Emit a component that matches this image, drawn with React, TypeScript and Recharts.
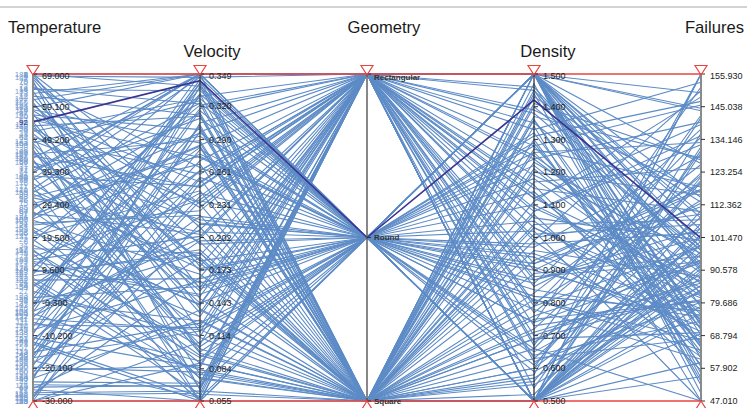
import React from "react";
import { LineChart, Line, XAxis, YAxis, ReferenceLine, ReferenceDot } from "recharts";

const dimensions = ["Temperature", "Velocity", "Geometry", "Density", "Failures"];

const RECT = "Rectangular";
const ROUND = "Round";
const SQ = "Square";
const geometryCategories = [RECT, ROUND, SQ];

const ids = [
  188, 12, 57, 143, 31, 176, 64, 109, 5, 151,
  23, 137, 81, 196, 44, 118, 70, 163, 9, 127,
  185, 52, 100, 34, 171, 78, 146, 19, 113, 60,
  158, 2, 133, 87, 42, 180, 96, 15, 124, 67,
  149, 27, 106, 193, 50, 84, 139, 7, 166, 116,
  38, 74, 155, 21, 131, 93, 182, 48, 111, 3,
  160, 69, 29, 142, 102, 55, 198, 17, 121, 89,
  36, 173, 61, 128, 11, 153, 95, 40, 186, 72,
  119, 26, 165, 98, 46, 136, 8, 178, 59, 104,
  145, 33, 190, 77, 14, 125, 63, 169, 99, 51,
  140, 24, 83, 157, 115, 6, 194, 66, 130, 45,
  1, 13, 28, 39, 53, 65, 76, 88, 97, 108,
  117, 126, 134, 147, 152, 161, 170, 179, 187, 195,
  4, 18, 30, 43, 58, 71, 85, 94, 103, 112,
  123, 138, 148, 159, 168, 177, 189, 197, 10, 22,
  35, 49, 62, 79, 91, 107, 122, 144, 164, 183,
  92,
];

const temperature = [
  69, 62.3, 55.1, 48.7, 41.2, 35.8, 27.4, 21.9, 14.6, 8.3,
  2.1, -4.7, -11.3, -18.6, -24.2, -30, 66.4, 58.9, 51.6, 44.8,
  38.1, 31.5, 24.7, 17.2, 11.9, 5.4, -1.8, -7.6, -14.9, -21.3,
  -27.5, 69, 63.8, 57.2, 50.1, 43.5, 36.9, 29.8, 23.3, 16.1,
  9.7, 3.2, -3.5, -9.8, -16.4, -22.7, -28.9, 67.5, 60.4, 53.8,
  46.2, 39.7, 33.1, 26.2, 19.9, 12.8, 6.6, 0.4, -6.2, -12.7,
  -19.4, -25.8, -30, 68.1, 61.7, 54.5, 47.3, 40.6, 34.2, 28.1,
  20.8, 13.7, 7.9, 1.3, -5.1, -10.9, -17.8, -23.5, -29.2, 65.2,
  57.9, 52.4, 45.6, 37.8, 30.9, 25.6, 18.3, 10.5, 4.6, -2.9,
  -8.4, -15.2, -20.9, -26.6, 64.3, 56.6, 49.8, 42.3, 32.7, 22.5,
  15.4, 6.1, -0.9, -13.6, -25.1, 69, 59.7, 45.1, -19.8, -30,
  69, 63.1, 58.2, 52.7, 47.9, 43.1, 37.4, 31.9, 26.8, 21.1,
  15.8, 10.2, 4.9, -0.6, -6.9, -12.1, -17.3, -22.4, -27.8, -30,
  68.4, 64.7, 56.3, 50.9, 42.6, 35.1, 28.6, 23.9, 12.3, 7.2,
  -3.1, -9.2, -15.7, -23.1, -28.1, 61.2, 53.3, 44.2, 33.8, 18.9,
  0.9, -11.8, -26.2, 66.9, 39.1, 25.1, -4.4, -16.9, 48.1, 9.1,
  54.5,
];

const velocity = [
  0.349, 0.312, 0.274, 0.233, 0.198, 0.161, 0.122, 0.089, 0.055, 0.336,
  0.301, 0.262, 0.221, 0.184, 0.071, 0.108, 0.147, 0.349, 0.327, 0.289,
  0.248, 0.207, 0.169, 0.131, 0.094, 0.061, 0.344, 0.318, 0.281, 0.239,
  0.064, 0.156, 0.117, 0.079, 0.055, 0.349, 0.309, 0.268, 0.226, 0.188,
  0.151, 0.113, 0.083, 0.341, 0.297, 0.255, 0.214, 0.176, 0.138, 0.099,
  0.066, 0.349, 0.323, 0.285, 0.244, 0.203, 0.165, 0.127, 0.091, 0.055,
  0.331, 0.069, 0.251, 0.211, 0.172, 0.134, 0.102, 0.293, 0.346, 0.314,
  0.277, 0.236, 0.191, 0.158, 0.119, 0.085, 0.058, 0.338, 0.305, 0.265,
  0.229, 0.182, 0.143, 0.106, 0.075, 0.349, 0.321, 0.283, 0.242, 0.201,
  0.163, 0.125, 0.087, 0.055, 0.334, 0.299, 0.259, 0.218, 0.179, 0.141,
  0.104, 0.071, 0.349, 0.316, 0.068, 0.232, 0.196, 0.154, 0.081, 0.055,
  0.338, 0.349, 0.287, 0.215, 0.157, 0.098, 0.349, 0.275, 0.205, 0.142,
  0.076, 0.331, 0.262, 0.188, 0.121, 0.059, 0.303, 0.235, 0.166, 0.089,
  0.346, 0.322, 0.252, 0.181, 0.112, 0.055, 0.296, 0.222, 0.149, 0.078,
  0.341, 0.271, 0.199, 0.128, 0.062, 0.349, 0.311, 0.247, 0.174, 0.096,
  0.329, 0.256, 0.137, 0.065, 0.349, 0.284, 0.209, 0.118, 0.325, 0.186,
  0.343,
];

const geometry = [
  RECT, SQ, ROUND, RECT, SQ, ROUND, RECT, SQ, RECT, ROUND,
  SQ, RECT, ROUND, SQ, RECT, ROUND, SQ, RECT, ROUND, SQ,
  RECT, ROUND, SQ, RECT, ROUND, SQ, SQ, RECT, ROUND, RECT,
  SQ, ROUND, RECT, SQ, ROUND, RECT, ROUND, SQ, RECT, SQ,
  ROUND, RECT, SQ, ROUND, RECT, SQ, ROUND, RECT, SQ, ROUND,
  RECT, SQ, ROUND, RECT, SQ, RECT, ROUND, SQ, ROUND, RECT,
  SQ, ROUND, RECT, SQ, ROUND, RECT, SQ, ROUND, RECT, SQ,
  ROUND, RECT, SQ, ROUND, SQ, RECT, ROUND, SQ, RECT, ROUND,
  RECT, SQ, ROUND, RECT, SQ, ROUND, RECT, SQ, ROUND, RECT,
  SQ, ROUND, RECT, SQ, ROUND, SQ, RECT, ROUND, SQ, RECT,
  ROUND, RECT, SQ, ROUND, RECT, SQ, ROUND, RECT, SQ, ROUND,
  ROUND, RECT, SQ, ROUND, RECT, SQ, RECT, ROUND, SQ, RECT,
  SQ, ROUND, RECT, SQ, ROUND, RECT, SQ, ROUND, RECT, SQ,
  ROUND, SQ, RECT, ROUND, SQ, RECT, ROUND, SQ, RECT, ROUND,
  SQ, RECT, ROUND, SQ, RECT, ROUND, SQ, RECT, ROUND, SQ,
  RECT, ROUND, SQ, RECT, ROUND, SQ, RECT, ROUND, SQ, RECT,
  ROUND,
];

const density = [
  1.5, 0.5, 1.32, 0.87, 1.11, 0.64, 1.45, 0.93, 0.5, 1.24,
  0.71, 1.5, 1.05, 0.58, 1.38, 0.82, 1.17, 0.5, 1.5, 0.96,
  0.67, 1.28, 0.79, 1.5, 1.02, 0.55, 1.41, 0.88, 1.14, 0.5,
  1.21, 0.74, 1.5, 0.99, 0.61, 1.35, 0.84, 1.08, 0.5, 1.47,
  0.92, 1.19, 0.69, 1.5, 1.03, 0.52, 1.29, 0.77, 1.5, 0.95,
  0.5, 1.36, 0.86, 1.12, 0.63, 1.5, 0.97, 1.23, 0.5, 0.73,
  1.43, 0.81, 1.06, 0.5, 1.31, 0.9, 1.5, 0.66, 1.16, 0.57,
  1.26, 0.5, 1.01, 1.5, 0.76, 1.39, 0.94, 0.6, 1.09, 0.5,
  1.5, 0.83, 1.22, 0.68, 1.34, 0.5, 1.13, 0.89, 1.5, 0.62,
  1.04, 0.78, 1.46, 0.5, 0.91, 1.27, 0.7, 1.5, 1.07, 0.54,
  1.18, 0.85, 1.5, 0.65, 1.33, 0.5, 0.98, 1.25, 0.72, 1.5,
  0.5, 1.5, 1.37, 0.59, 1.15, 0.81, 1.5, 0.5, 1.26, 0.92,
  1.44, 0.5, 1.08, 0.75, 1.5, 0.63, 1.2, 0.5, 0.99, 1.5,
  0.87, 1.3, 0.5, 1.5, 0.69, 1.12, 0.5, 1.4, 0.8, 1.5,
  0.56, 1.24, 0.5, 1.03, 1.5, 0.74, 1.36, 0.5, 1.1, 0.6,
  1.5, 0.9, 0.5, 1.28, 1.5, 0.66, 1.0, 0.5, 1.45, 0.79,
  1.42,
];

const failures = [
  82.4, 131.7, 64.9, 101.2, 148.3, 73.6, 92.8, 117.5, 55.1, 139.9,
  86.3, 109.4, 68.2, 155.93, 95.7, 77.1, 124.6, 59.8, 103.9, 88.5,
  142.2, 71.3, 98.6, 114.8, 47.01, 83.7, 127.3, 93.4, 66.5, 106.1,
  79.2, 151.6, 90.1, 61.7, 119.8, 97.3, 74.9, 135.4, 85.6, 52.3,
  111.7, 96.2, 69.8, 144.5, 81.3, 104.7, 63.4, 122.1, 91.6, 76.8,
  99.1, 58.4, 137.6, 87.9, 108.3, 72.5, 128.9, 94.6, 155.93, 80.7,
  113.2, 67.3, 100.5, 84.2, 146.8, 75.4, 97.9, 120.4, 62.6, 89.3,
  133.1, 78.6, 105.8, 54.7, 93.9, 116.4, 70.2, 141.3, 86.8, 102.6,
  65.7, 125.8, 83.1, 98.9, 47.01, 110.5, 74.1, 95.2, 149.7, 79.9,
  107.4, 60.9, 90.9, 136.2, 71.9, 118.3, 87.2, 99.8, 57.3, 130.5,
  81.9, 112.9, 68.9, 94.1, 153.2, 76.2, 103.1, 89.7, 122.9, 49.6,
  96.8, 72.1, 127.9, 85.3, 110.1, 63.9, 143.7, 91.1, 75.8, 119.2,
  53.6, 101.9, 132.4, 80.2, 98.2, 67.9, 115.6, 88.1, 150.4, 73.2,
  104.3, 58.9, 92.3, 126.1, 82.9, 139.1, 69.4, 97.1, 113.9, 61.2,
  121.7, 86.1, 155.93, 77.6, 107.9, 93.1, 65.1, 129.6, 84.7, 100.2,
  56.2, 117.1, 90.2, 145.6, 78.3, 47.01, 109.2, 95.9, 70.7, 134.9,
  101.3,
];

const highlightIds = [92];

const temperatureTicks = [69, 59.1, 49.2, 39.3, 29.4, 19.5, 9.6, -0.3, -10.2, -20.1, -30];
const velocityTicks = [0.349, 0.32, 0.29, 0.261, 0.231, 0.202, 0.173, 0.143, 0.114, 0.084, 0.055];
const densityTicks = [1.5, 1.4, 1.3, 1.2, 1.1, 1.0, 0.9, 0.8, 0.7, 0.6, 0.5];
const failuresTicks = [155.93, 145.038, 134.146, 123.254, 112.362, 101.47, 90.578, 79.686, 68.794, 57.902, 47.01];

const ranges: Record<string, [number, number]> = {
  Temperature: [-30, 69],
  Velocity: [0.055, 0.349],
  Density: [0.5, 1.5],
  Failures: [47.01, 155.93],
};

const norm = (dim: string, v: number) => {
  const [lo, hi] = ranges[dim];
  return (v - lo) / (hi - lo);
};
const normGeo = (g: string) => 1 - geometryCategories.indexOf(g) / (geometryCategories.length - 1);

const records = ids.map((id, k) => [
  norm("Temperature", temperature[k]),
  norm("Velocity", velocity[k]),
  normGeo(geometry[k]),
  norm("Density", density[k]),
  norm("Failures", failures[k]),
]);

const data = dimensions.map((name, d) => {
  const row: Record<string, number | string> = { i: d, name };
  records.forEach((r, k) => {
    row[`r${k}`] = r[d];
  });
  return row;
});

const numericAxes: { d: number; dim: string; ticks: number[] }[] = [
  { d: 0, dim: "Temperature", ticks: temperatureTicks },
  { d: 1, dim: "Velocity", ticks: velocityTicks },
  { d: 3, dim: "Density", ticks: densityTicks },
  { d: 4, dim: "Failures", ticks: failuresTicks },
];

const FONT = "'Liberation Sans', Arial, Helvetica, sans-serif";
const LINE_BLUE = "#5d8bc6";
const HL = "#3b3590";
const RED = "#e8433f";

const axisColors = ["#8a8a8a", "#333", "#555", "#222", "#8a8a8a"];
const axisWidths = [2, 1.2, 1.4, 1.2, 2];

const idDot = (id: number, hl: boolean) => (props: any) => {
  const key = `dot-${id}-${props.index}`;
  if (props.index !== 0) return <g key={key} />;
  return (
    <text
      key={key}
      x={props.cx - 5}
      y={props.cy}
      dy="0.35em"
      textAnchor="end"
      fontSize={8}
      fontFamily={FONT}
      fill={hl ? HL : "#7aa0d3"}
    >
      {id}
    </text>
  );
};

const tickShape = (label: string, top: boolean) => (p: any) => (
  <g>
    <line x1={p.cx} x2={p.cx + 4} y1={p.cy} y2={p.cy} stroke="#333" strokeWidth={1} />
    <text x={p.cx + 9} y={p.cy + (top ? 2 : 0)} dy="0.35em" fontSize={9} fontFamily={FONT} fill="#222">
      {label}
    </text>
  </g>
);

const geoShape = (label: string, top: boolean) => (p: any) => (
  <g>
    <line x1={p.cx} x2={p.cx + 4} y1={p.cy} y2={p.cy} stroke="#333" strokeWidth={1} />
    <text x={p.cx + 7} y={p.cy + (top ? 3 : 0)} dy="0.35em" fontSize={8} fontWeight="bold" fontFamily={FONT} fill="#333">
      {label}
    </text>
  </g>
);

const topTriangle = (p: any) => (
  <path d={`M${p.cx - 6},${p.cy - 8.5} L${p.cx + 6},${p.cy - 8.5} L${p.cx},${p.cy + 1} Z`} fill="none" stroke={RED} strokeWidth={1.2} />
);
const bottomTriangle = (p: any) => (
  <path d={`M${p.cx - 6},${p.cy + 9.5} L${p.cx + 6},${p.cy + 9.5} L${p.cx},${p.cy} Z`} fill="none" stroke={RED} strokeWidth={1.2} />
);

const titles = [
  { text: "Temperature", x: 8, y: 33, anchor: "start" },
  { text: "Velocity", x: 212, y: 57, anchor: "middle" },
  { text: "Geometry", x: 384, y: 33, anchor: "middle" },
  { text: "Density", x: 548, y: 57, anchor: "middle" },
  { text: "Failures", x: 744, y: 33, anchor: "end" },
];

export default function App() {
  return (
    <div style={{ position: "relative", width: 747, height: 408, background: "#fff", overflow: "hidden" }}>
      <style>{`body{margin:0;background:#fff}`}</style>
      <svg width={747} height={408} style={{ position: "absolute", left: 0, top: 0 }}>
        <line x1={0} x2={747} y1={7} y2={7} stroke="#a8a8a8" strokeWidth={1.2} />
        {titles.map((t) => (
          <text key={t.text} x={t.x} y={t.y} textAnchor={t.anchor as any} fontSize={16.6} fontFamily={FONT} fill="#1a1a1a">
            {t.text}
          </text>
        ))}
      </svg>
      <div style={{ position: "absolute", left: 0, top: 0 }}>
        <LineChart width={747} height={408} data={data} margin={{ top: 74, right: 46, bottom: 7, left: 33 }}>
          <XAxis type="number" dataKey="i" domain={[0, 4]} hide height={0} />
          <YAxis type="number" domain={[0, 1]} hide width={0} />
          {ids.map((id, k) => {
            const hl = highlightIds.includes(id);
            return (
              <Line
                key={`line-${id}-${k}`}
                dataKey={`r${k}`}
                type="linear"
                stroke={hl ? HL : LINE_BLUE}
                strokeWidth={hl ? 1.6 : 1.1}
                dot={idDot(id, hl)}
                activeDot={false}
                isAnimationActive={false}
              />
            );
          })}
          {dimensions.map((name, d) => (
            <ReferenceLine key={`axis-${name}`} x={d} stroke={axisColors[d]} strokeWidth={axisWidths[d]} />
          ))}
          <ReferenceLine y={1} stroke={RED} strokeWidth={1.3} />
          <ReferenceLine y={0} stroke={RED} strokeWidth={1.3} />
          {numericAxes.map((ax) =>
            ax.ticks.map((t, j) => (
              <ReferenceDot
                key={`tick-${ax.dim}-${j}`}
                x={ax.d}
                y={norm(ax.dim, t)}
                r={1}
                shape={tickShape(t.toFixed(3), j === 0)}
              />
            ))
          )}
          {geometryCategories.map((g, j) => (
            <ReferenceDot key={`geo-${g}`} x={2} y={normGeo(g)} r={1} shape={geoShape(g, j === 0)} />
          ))}
          {dimensions.map((name, d) => (
            <ReferenceDot key={`tri-top-${name}`} x={d} y={1} r={1} shape={topTriangle} />
          ))}
          {dimensions.map((name, d) => (
            <ReferenceDot key={`tri-bot-${name}`} x={d} y={0} r={1} shape={bottomTriangle} />
          ))}
        </LineChart>
      </div>
    </div>
  );
}
